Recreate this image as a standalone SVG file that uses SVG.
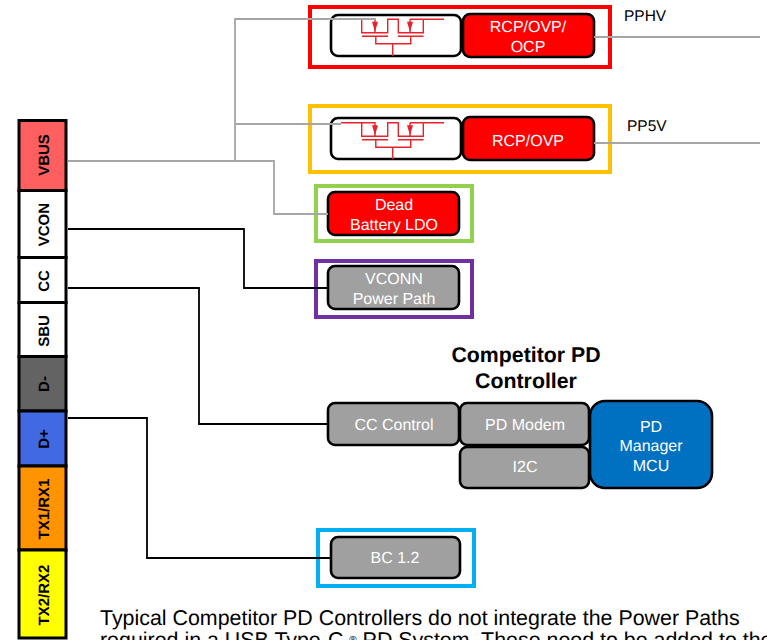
<svg xmlns="http://www.w3.org/2000/svg" width="767" height="640" viewBox="0 0 767 640">
<defs>
<path id="fetpath" class="r" d="M361.700 0H375V13.500M361.700 0V13.500H387.700V0H398.300V13.500H423.300V0M410 0V13.500M410 0H423.300M362 17H388M398 17H423.500M375.800 17V24.500H410.700V17"/>
<path id="fetarrow" d="M372 2.500H378L375 12.500Z M407 2.500H413L410 12.500Z" fill="#e8212b"/>
</defs>
<style>
text{font-family:"Liberation Sans",Arial,sans-serif;text-rendering:geometricPrecision}
.w{fill:#fff;text-anchor:middle;font-size:16px}
.b{fill:#000;font-weight:700;font-size:15px;text-anchor:middle}
.l{fill:#000;font-size:15.500px}
.g{fill:none;stroke:#a6a6a6;stroke-width:1.800}
.c{fill:none;stroke:#000;stroke-width:1.800}
.r{fill:none;stroke:#e8212b;stroke-width:1.400}
.pin{stroke:#000;stroke-width:3}
.box{stroke:#000;stroke-width:2.600}
.frame{fill:none;stroke-width:4}
</style>
<rect width="767" height="640" fill="#fff"/>
<g id="pins">
<g id="pin-vbus"><rect class="pin" x="19" y="120.500" width="47" height="70" fill="#ff5f5f"/><text class="b" transform="translate(49,155) rotate(-90)">VBUS</text></g>
<g id="pin-vcon"><rect class="pin" x="19" y="190.500" width="47" height="67" fill="#fff"/><text class="b" transform="translate(49,224.700) rotate(-90)">VCON</text></g>
<g id="pin-cc"><rect class="pin" x="19" y="257.500" width="47" height="45" fill="#fff"/><text class="b" transform="translate(49,281) rotate(-90)">CC</text></g>
<g id="pin-sbu"><rect class="pin" x="19" y="302.500" width="47" height="54" fill="#fff"/><text class="b" transform="translate(49,331) rotate(-90)">SBU</text></g>
<g id="pin-dm"><rect class="pin" x="19" y="356.500" width="47" height="54.500" fill="#636363"/><text class="b" transform="translate(49,384) rotate(-90)">D-</text></g>
<g id="pin-dp"><rect class="pin" x="19" y="411" width="47" height="55" fill="#4169e1"/><text class="b" transform="translate(49,439) rotate(-90)">D+</text></g>
<g id="pin-tx1"><rect class="pin" x="19" y="466" width="47" height="84" fill="#ff9300"/><text class="b" transform="translate(49,509) rotate(-90)">TX1/RX1</text></g>
<g id="pin-tx2"><rect class="pin" x="19" y="550" width="47" height="88" fill="#ff0"/><text class="b" transform="translate(49,595) rotate(-90)">TX2/RX2</text></g>
</g>
<g id="pphv">
<rect class="frame" x="310" y="7" width="300" height="60" stroke="#f00"/>
<rect class="box" x="331" y="15" width="130" height="41" rx="7" fill="#fff"/>
<use href="#fetpath" y="19.300"/><path class="r" d="M423.300 19.300H444M392.700 43.800V56"/><use href="#fetarrow" y="19.300"/>
<rect class="box" x="463" y="14" width="131" height="43" rx="7" fill="#f00"/>
<text class="w" x="528" y="32">RCP/OVP/</text><text class="w" x="528" y="52">OCP</text>
<text class="l" x="624" y="21">PPHV</text>
</g>
<g id="pp5v">
<rect class="frame" x="310" y="106" width="300" height="66" stroke="#ffc000"/>
<rect class="box" x="331" y="118" width="130" height="41" rx="7" fill="#fff"/>
<use href="#fetpath" y="122.800"/><path class="r" d="M341 122.800H362M423.300 122.800H444M392.700 147.300V159"/><use href="#fetarrow" y="122.800"/>
<rect class="box" x="463" y="117" width="131" height="43" rx="7" fill="#f00"/>
<text class="w" x="528" y="146">RCP/OVP</text>
<text class="l" x="627" y="131">PP5V</text>
</g>
<g id="dead-battery">
<rect class="frame" x="316" y="186" width="156" height="55" stroke="#92d050"/>
<rect class="box" x="328" y="192" width="131" height="43" rx="7" fill="#f00"/>
<text class="w" x="394" y="210">Dead</text><text class="w" x="394" y="230">Battery LDO</text>
</g>
<g id="vconn">
<rect class="frame" x="316" y="261" width="156" height="56" stroke="#7030a0"/>
<rect class="box" x="328" y="266" width="131" height="43" rx="7" fill="#a0a0a0"/>
<text class="w" x="394" y="284">VCONN</text><text class="w" x="394" y="304">Power Path</text>
</g>
<g id="title"><text font-size="21.300" font-weight="700" text-anchor="middle" x="526" y="362">Competitor PD</text><text font-size="21.300" font-weight="700" text-anchor="middle" x="526" y="388">Controller</text></g>
<g id="cc-control"><rect class="box" x="328" y="403" width="131" height="42" rx="7" fill="#a0a0a0"/><text class="w" x="394" y="430">CC Control</text></g>
<g id="pd-modem"><rect class="box" x="460" y="403" width="129" height="42" rx="7" fill="#a0a0a0"/><text class="w" x="525" y="430">PD Modem</text></g>
<g id="i2c"><rect class="box" x="460" y="447" width="129" height="41" rx="7" fill="#a0a0a0"/><text class="w" x="525" y="472">I2C</text></g>
<g id="pd-mcu"><rect class="box" x="590" y="401" width="122" height="87" rx="15" fill="#0070c0"/><text class="w" x="651" y="432">PD</text><text class="w" x="651" y="451">Manager</text><text class="w" x="651" y="471">MCU</text></g>
<g id="bc12">
<rect class="frame" x="318" y="530" width="156" height="56" stroke="#00b0f0"/>
<rect class="box" x="331" y="537" width="129" height="41" rx="7" fill="#a0a0a0"/>
<text class="w" x="395" y="563">BC 1.2</text>
</g>
<g id="connectors">
<path class="g" d="M68 161H235V19H376"/>
<path class="g" d="M235 124H341"/>
<path class="g" d="M235 161H274V214H328"/>
<path class="g" d="M594 37H760"/>
<path class="g" d="M594 143H760"/>
<path class="c" d="M68 229H244V288H328"/>
<path class="c" d="M68 288H199V424H328"/>
<path class="c" d="M68 418H147V558H331"/>
</g>
<g id="note">
<text font-size="21.400" x="100" y="624.500">Typical Competitor PD Controllers do not integrate the Power Paths</text>
<text font-size="21.400" x="100" y="646.500">required in a USB Type-C <tspan font-size="10" dy="-4">®</tspan><tspan dy="4"> PD System. These need to be added to the</tspan></text>
</g>
</svg>
